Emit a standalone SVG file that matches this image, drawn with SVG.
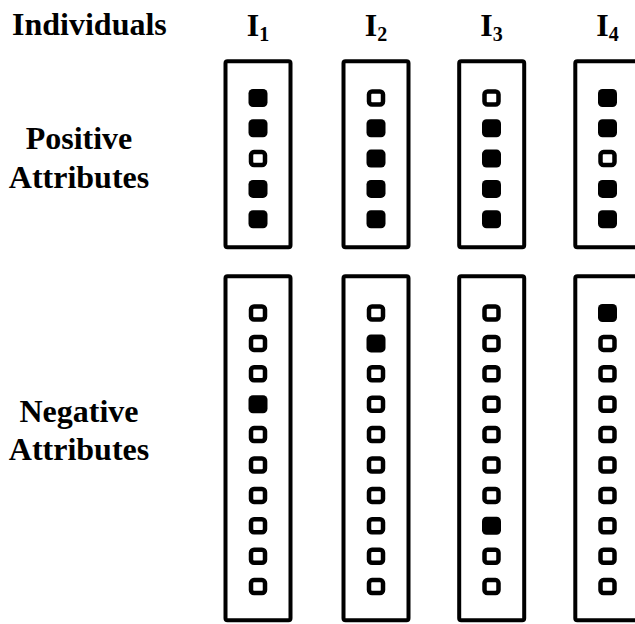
<svg xmlns="http://www.w3.org/2000/svg" xmlns:xlink="http://www.w3.org/1999/xlink" width="635" height="624" viewBox="0 0 635 624">
<style>
.lbl{font-family:"Liberation Serif","Times New Roman",serif;font-weight:bold;font-size:32px;fill:#000}
.box{fill:none;stroke:#000;stroke-width:4}
.sub{font-size:20px}
</style>
<defs>
<rect id="on" x="-9.5" y="-9" width="19" height="18" rx="4.5" fill="#000"/>
<rect id="off" x="-7" y="-6.5" width="14" height="13" rx="3" fill="#fff" stroke="#000" stroke-width="4.5"/>
</defs>
<rect width="635" height="624" fill="#fff"/>
<g id="labels">
<text class="lbl" x="12" y="35">Individuals</text>
<text class="lbl" text-anchor="middle"><tspan x="79" y="149">Positive</tspan><tspan x="79" y="188">Attributes</tspan></text>
<text class="lbl" text-anchor="middle"><tspan x="79" y="422">Negative</tspan><tspan x="79" y="460">Attributes</tspan></text>
</g>
<g id="connectors"/>
<g id="individual-1">
<text class="lbl" x="258" y="36" text-anchor="middle">I<tspan class="sub" dy="5">1</tspan></text>
<rect class="box" x="225.5" y="61.3" width="65" height="186" rx="2"/>
<rect class="box" x="225.5" y="276.3" width="65" height="344" rx="2"/>
<use xlink:href="#on" x="258" y="98"/><use xlink:href="#on" x="258" y="128.3"/><use xlink:href="#off" x="258" y="158.6"/><use xlink:href="#on" x="258" y="188.9"/><use xlink:href="#on" x="258" y="219.2"/>
<use xlink:href="#off" x="258" y="313"/><use xlink:href="#off" x="258" y="343.4"/><use xlink:href="#off" x="258" y="373.8"/><use xlink:href="#on" x="258" y="404.2"/><use xlink:href="#off" x="258" y="434.6"/><use xlink:href="#off" x="258" y="465"/><use xlink:href="#off" x="258" y="495.4"/><use xlink:href="#off" x="258" y="525.8"/><use xlink:href="#off" x="258" y="556.2"/><use xlink:href="#off" x="258" y="586.6"/>
</g>
<g id="individual-2">
<text class="lbl" x="376" y="36" text-anchor="middle">I<tspan class="sub" dy="5">2</tspan></text>
<rect class="box" x="343.5" y="61.3" width="65" height="186" rx="2"/>
<rect class="box" x="343.5" y="276.3" width="65" height="344" rx="2"/>
<use xlink:href="#off" x="376" y="98"/><use xlink:href="#on" x="376" y="128.3"/><use xlink:href="#on" x="376" y="158.6"/><use xlink:href="#on" x="376" y="188.9"/><use xlink:href="#on" x="376" y="219.2"/>
<use xlink:href="#off" x="376" y="313"/><use xlink:href="#on" x="376" y="343.4"/><use xlink:href="#off" x="376" y="373.8"/><use xlink:href="#off" x="376" y="404.2"/><use xlink:href="#off" x="376" y="434.6"/><use xlink:href="#off" x="376" y="465"/><use xlink:href="#off" x="376" y="495.4"/><use xlink:href="#off" x="376" y="525.8"/><use xlink:href="#off" x="376" y="556.2"/><use xlink:href="#off" x="376" y="586.6"/>
</g>
<g id="individual-3">
<text class="lbl" x="491.5" y="36" text-anchor="middle">I<tspan class="sub" dy="5">3</tspan></text>
<rect class="box" x="459.2" y="61.3" width="65" height="186" rx="2"/>
<rect class="box" x="459.2" y="276.3" width="65" height="344" rx="2"/>
<use xlink:href="#off" x="491.5" y="98"/><use xlink:href="#on" x="491.5" y="128.3"/><use xlink:href="#on" x="491.5" y="158.6"/><use xlink:href="#on" x="491.5" y="188.9"/><use xlink:href="#on" x="491.5" y="219.2"/>
<use xlink:href="#off" x="491.5" y="313"/><use xlink:href="#off" x="491.5" y="343.4"/><use xlink:href="#off" x="491.5" y="373.8"/><use xlink:href="#off" x="491.5" y="404.2"/><use xlink:href="#off" x="491.5" y="434.6"/><use xlink:href="#off" x="491.5" y="465"/><use xlink:href="#off" x="491.5" y="495.4"/><use xlink:href="#on" x="491.5" y="525.8"/><use xlink:href="#off" x="491.5" y="556.2"/><use xlink:href="#off" x="491.5" y="586.6"/>
</g>
<g id="individual-4">
<text class="lbl" x="607.5" y="36" text-anchor="middle">I<tspan class="sub" dy="5">4</tspan></text>
<rect class="box" x="575.3" y="61.3" width="65" height="186" rx="2"/>
<rect class="box" x="575.3" y="276.3" width="65" height="344" rx="2"/>
<use xlink:href="#on" x="607.5" y="98"/><use xlink:href="#on" x="607.5" y="128.3"/><use xlink:href="#off" x="607.5" y="158.6"/><use xlink:href="#on" x="607.5" y="188.9"/><use xlink:href="#on" x="607.5" y="219.2"/>
<use xlink:href="#on" x="607.5" y="313"/><use xlink:href="#off" x="607.5" y="343.4"/><use xlink:href="#off" x="607.5" y="373.8"/><use xlink:href="#off" x="607.5" y="404.2"/><use xlink:href="#off" x="607.5" y="434.6"/><use xlink:href="#off" x="607.5" y="465"/><use xlink:href="#off" x="607.5" y="495.4"/><use xlink:href="#off" x="607.5" y="525.8"/><use xlink:href="#off" x="607.5" y="556.2"/><use xlink:href="#off" x="607.5" y="586.6"/>
</g>
</svg>
